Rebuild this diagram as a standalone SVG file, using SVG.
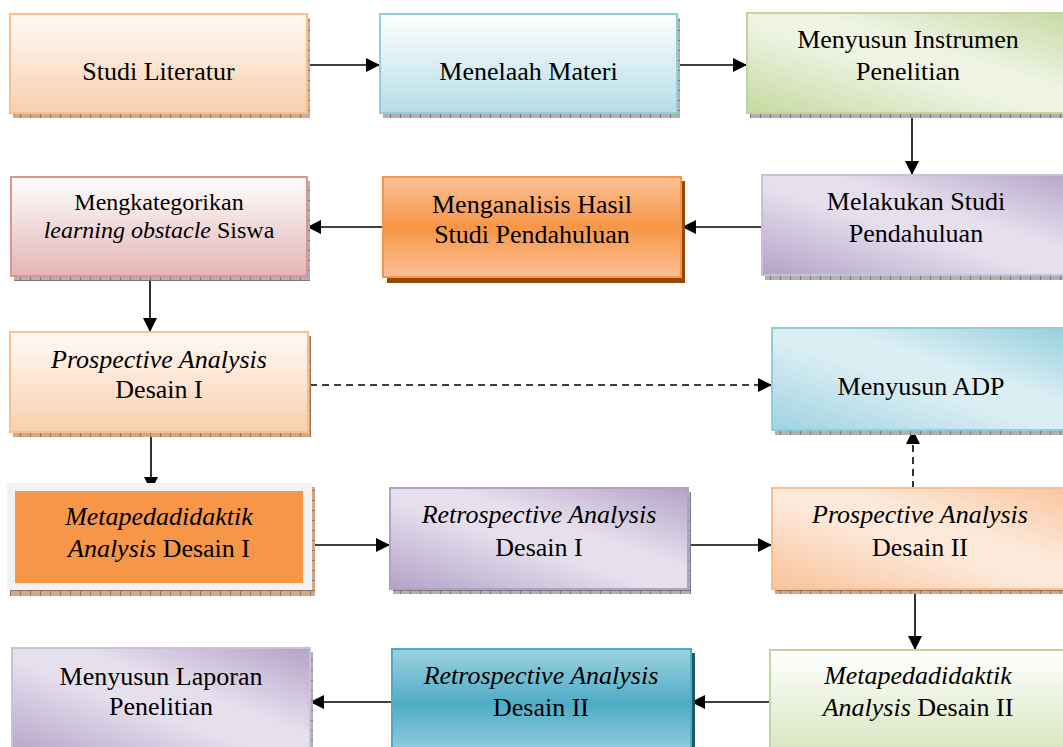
<svg xmlns="http://www.w3.org/2000/svg" width="1063" height="747" viewBox="0 0 1063 747">
<style>
text{font-family:"Liberation Serif","Times New Roman",serif;font-size:26px;fill:#000;text-anchor:middle}
.sm{font-size:24px}
.i{font-style:italic}
.c{stroke:#000;stroke-width:1.6;fill:none}
.d{stroke-dasharray:7 5}
</style>
<defs>
<pattern id="hb" width="10" height="10" patternUnits="userSpaceOnUse"><rect width="10" height="10" fill="#cdaa8c"/><path d="M0.5 0V10M0 0.5H10" stroke="#9a7358" stroke-width="1"/></pattern>
<pattern id="hg" width="10" height="10" patternUnits="userSpaceOnUse"><rect width="10" height="10" fill="#b0b0b0"/><path d="M0.5 0V10M0 0.5H10" stroke="#7a7a7a" stroke-width="1"/></pattern>
<linearGradient id="gPeachV" x1="0" y1="0" x2="0" y2="1"><stop offset="0" stop-color="#fffaf6"/><stop offset="1" stop-color="#f9cfad"/></linearGradient>
<linearGradient id="gBlueV" x1="0" y1="0" x2="0" y2="1"><stop offset="0" stop-color="#ffffff"/><stop offset="1" stop-color="#b5dde8"/></linearGradient>
<linearGradient id="gPinkV" x1="0" y1="0" x2="0" y2="1"><stop offset="0" stop-color="#ffffff"/><stop offset="1" stop-color="#e3b5b4"/></linearGradient>
<linearGradient id="gGreenV" x1="0" y1="0" x2="0" y2="1"><stop offset="0" stop-color="#ffffff"/><stop offset="1" stop-color="#d6e3bc"/></linearGradient>
<linearGradient id="gOrange" x1="0" y1="0" x2="0" y2="1"><stop offset="0" stop-color="#fbc196"/><stop offset="0.5" stop-color="#f79646"/><stop offset="1" stop-color="#fbc196"/></linearGradient>
<linearGradient id="gTeal" x1="0" y1="0" x2="0" y2="1"><stop offset="0" stop-color="#9dd2e0"/><stop offset="0.5" stop-color="#4eacc6"/><stop offset="1" stop-color="#9dd2e0"/></linearGradient>
<linearGradient id="gPurpleD" x1="0" y1="1" x2="1" y2="0"><stop offset="0" stop-color="#b3a2c8"/><stop offset="0.45" stop-color="#e6e0ee"/><stop offset="0.6" stop-color="#e6e0ee"/><stop offset="1" stop-color="#b3a2c8"/></linearGradient>
<linearGradient id="gGreenD" x1="0" y1="1" x2="1" y2="0"><stop offset="0" stop-color="#c6d9a0"/><stop offset="0.45" stop-color="#eef3e4"/><stop offset="0.6" stop-color="#eef3e4"/><stop offset="1" stop-color="#c6d9a0"/></linearGradient>
<linearGradient id="gBlueD" x1="0" y1="1" x2="1" y2="0"><stop offset="0" stop-color="#9ed3e1"/><stop offset="0.45" stop-color="#dbeef4"/><stop offset="0.6" stop-color="#dbeef4"/><stop offset="1" stop-color="#92cddc"/></linearGradient>
<linearGradient id="gPeachD" x1="0" y1="1" x2="1" y2="0"><stop offset="0" stop-color="#f9c39a"/><stop offset="0.45" stop-color="#fde9da"/><stop offset="0.6" stop-color="#fde9da"/><stop offset="1" stop-color="#f9c39a"/></linearGradient>
<marker id="ah" viewBox="0 0 14 14" refX="14" refY="7" markerWidth="14" markerHeight="14" markerUnits="userSpaceOnUse" orient="auto"><path d="M0 0L14 7L0 14Z" fill="#000"/></marker>
</defs>

<g id="connectors">
<path class="c" d="M307 65H380" marker-end="url(#ah)"/>
<path class="c" d="M677 65H747" marker-end="url(#ah)"/>
<path class="c" d="M912 113V175" marker-end="url(#ah)"/>
<path class="c" d="M762 227H682" marker-end="url(#ah)"/>
<path class="c" d="M383 227H307" marker-end="url(#ah)"/>
<path class="c" d="M150 277V332" marker-end="url(#ah)"/>
<path class="c d" d="M310 385H772" marker-end="url(#ah)"/>
<path class="c" d="M151 432V491" marker-end="url(#ah)"/>
<path class="c" d="M310 545H390" marker-end="url(#ah)"/>
<path class="c" d="M688 545H772" marker-end="url(#ah)"/>
<path class="c d" d="M913 488V430" marker-end="url(#ah)"/>
<path class="c" d="M915 590V650" marker-end="url(#ah)"/>
<path class="c" d="M770 702H691" marker-end="url(#ah)"/>
<path class="c" d="M392 702H310" marker-end="url(#ah)"/>
</g>

<g id="n1">
<rect x="13" y="18" width="297" height="100" fill="url(#hb)"/>
<rect x="10" y="14" width="297" height="99" fill="url(#gPeachV)" stroke="#fabf8f" stroke-width="2"/>
<text x="158.5" y="80">Studi Literatur</text>
</g>
<g id="n2">
<rect x="383" y="18" width="297" height="100" fill="url(#hg)"/>
<rect x="380" y="14" width="297" height="99" fill="url(#gBlueV)" stroke="#92cddc" stroke-width="2"/>
<text x="528.5" y="80">Menelaah Materi</text>
</g>
<g id="n3">
<rect x="750" y="17" width="330" height="101" fill="url(#hg)"/>
<rect x="747" y="13" width="330" height="100" fill="url(#gGreenD)" stroke="#c2d69b" stroke-width="2"/>
<text x="908" y="48">Menyusun Instrumen</text>
<text x="908" y="80">Penelitian</text>
</g>
<g id="n4">
<rect x="14" y="181" width="296" height="100" fill="url(#hg)"/>
<rect x="11" y="177" width="296" height="99" fill="url(#gPinkV)" stroke="#d99594" stroke-width="2"/>
<text class="sm" x="159" y="210">Mengkategorikan</text>
<text class="sm" x="159" y="238"><tspan class="i">learning obstacle</tspan> Siswa</text>
</g>
<g id="n5">
<rect x="387" y="181" width="298" height="102" fill="#984807"/>
<rect x="383" y="177" width="298" height="100" fill="url(#gOrange)" stroke="#f79646" stroke-width="2"/>
<text x="532" y="213">Menganalisis Hasil</text>
<text x="532" y="243">Studi Pendahuluan</text>
</g>
<g id="n6">
<rect x="765" y="179" width="320" height="101" fill="url(#hg)"/>
<rect x="762" y="175" width="320" height="100" fill="url(#gPurpleD)" stroke="#ccc0d9" stroke-width="2"/>
<text x="916" y="210">Melakukan Studi</text>
<text x="916" y="242">Pendahuluan</text>
</g>
<g id="n7">
<rect x="13" y="336" width="298" height="101" fill="url(#hb)"/>
<rect x="10" y="332" width="298" height="100" fill="url(#gPeachV)" stroke="#fabf8f" stroke-width="2"/>
<text class="i" x="159" y="368">Prospective Analysis</text>
<text x="159" y="398">Desain I</text>
</g>
<g id="n8">
<rect x="775" y="332" width="310" height="103" fill="url(#hg)"/>
<rect x="772" y="328" width="310" height="102" fill="url(#gBlueD)" stroke="#92cddc" stroke-width="2"/>
<text x="921" y="395">Menyusun ADP</text>
</g>
<g id="n9">
<rect x="10" y="487" width="305" height="109" fill="url(#hb)"/>
<rect x="7" y="483" width="305" height="107" fill="#f2f2f2"/>
<rect x="15" y="491" width="288" height="92" fill="#f79646"/>
<text class="i" x="159" y="525">Metapedadidaktik</text>
<text x="159" y="557"><tspan class="i">Analysis</tspan> Desain I</text>
</g>
<g id="n10">
<rect x="393" y="492" width="298" height="102" fill="url(#hg)"/>
<rect x="390" y="488" width="298" height="101" fill="url(#gPurpleD)" stroke="#b2a1c7" stroke-width="2"/>
<text class="i" x="539" y="523">Retrospective Analysis</text>
<text x="539" y="556">Desain I</text>
</g>
<g id="n11">
<rect x="775" y="492" width="310" height="102" fill="url(#hb)"/>
<rect x="772" y="488" width="310" height="101" fill="url(#gPeachD)" stroke="#fabf8f" stroke-width="2"/>
<text class="i" x="920" y="523">Prospective Analysis</text>
<text x="920" y="556">Desain II</text>
</g>
<g id="n12">
<rect x="15" y="652" width="298" height="110" fill="url(#hg)"/>
<rect x="12" y="648" width="298" height="110" fill="url(#gPurpleD)" stroke="#ccc0d9" stroke-width="2"/>
<text x="161" y="685">Menyusun Laporan</text>
<text x="161" y="715">Penelitian</text>
</g>
<g id="n13">
<rect x="396" y="653" width="299" height="110" fill="#205867"/>
<rect x="392" y="649" width="299" height="110" fill="url(#gTeal)" stroke="#4bacc6" stroke-width="2"/>
<text class="i" x="541" y="684">Retrospective Analysis</text>
<text x="541" y="716">Desain II</text>
</g>
<g id="n14">
<rect x="770" y="650" width="310" height="110" fill="url(#gGreenV)" stroke="#c2d69b" stroke-width="2"/>
<text class="i" x="918" y="684">Metapedadidaktik</text>
<text x="918" y="716"><tspan class="i">Analysis</tspan> Desain II</text>
</g>
</svg>
